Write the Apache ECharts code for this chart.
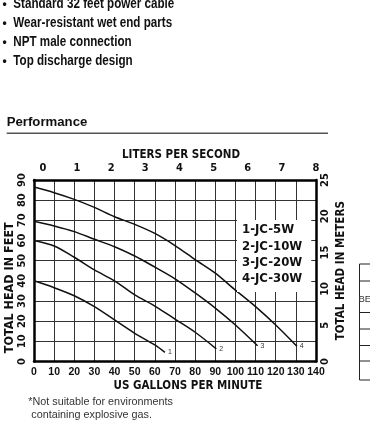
<!DOCTYPE html>
<html>
<head>
<meta charset="utf-8">
<script src="https://cdn.jsdelivr.net/npm/echarts@6/dist/echarts.min.js"></script>
<style>
html,body{margin:0;padding:0;background:#fff;}
#c{width:370px;height:421px;}
</style>
</head>
<body>
<div id="c"></div>
<script>
// ---- data ----
const modelNames = ['1-JC-5W', '2-JC-10W', '3-JC-20W', '4-JC-30W'];
const curveTags = ['1', '2', '3', '4'];
const gallons1 = [0, 10, 20, 30, 40, 50, 60, 65];
const feet1    = [40, 36.6, 32.6, 27.2, 20.6, 14, 8.2, 4.5];
const gallons2 = [0, 10, 20, 30, 40, 50, 60, 70, 80, 90.5];
const feet2    = [60, 57.3, 51.7, 45.4, 40, 33, 27.5, 21, 14.5, 6.3];
const gallons3 = [0, 10, 20, 30, 40, 50, 60, 70, 80, 90, 100, 111];
const feet3    = [69.5, 67.2, 64.4, 60.6, 56.9, 52.3, 46.8, 41, 34, 26.5, 18.1, 7.8];
const gallons4 = [0, 10, 20, 30, 40, 50, 60, 70, 80, 90, 100, 110, 120, 130.5];
const feet4    = [86.5, 83.7, 80.4, 76.4, 71.8, 68, 63.5, 57.5, 50.5, 43.8, 35.4, 27.2, 18.1, 7.6];
const literTicks = [0, 1, 2, 3, 4, 5, 6, 7, 8];
const bullets = ['Standard 32 feet power cable', 'Wear-resistant wet end parts', 'NPT male connection', 'Top discharge design'];
const footnote = ['*Not suitable for environments', ' containing explosive gas.'];

const COND = "'DejaVu Sans Condensed','DejaVu Sans',sans-serif";
const SANS = "'Liberation Sans',Arial,sans-serif";

const curves = [[gallons1, feet1], [gallons2, feet2], [gallons3, feet3], [gallons4, feet4]];
const series = curves.map(function (c, i) {
  return {
    type: 'line',
    name: modelNames[i],
    xAxisIndex: 0, yAxisIndex: 0,
    data: c[0].map(function (g, j) { return [g, c[1][j]]; }),
    smooth: 0.3,
    symbol: 'none',
    lineStyle: { color: '#111', width: 1.5 },
    itemStyle: { color: '#111' },
    endLabel: { show: true, formatter: curveTags[i], fontSize: 7, color: '#333', distance: 3, fontFamily: SANS }
  };
});

const axisLineStyle = { show: true, onZero: false, lineStyle: { color: '#000', width: 2.5 } };
const tickFont = { fontFamily: COND, fontWeight: 'bold', fontSize: 11, color: '#111' };

const graphics = [];
bullets.forEach(function (b, i) {
  const y = 4.3 + i * 19;
  graphics.push({ type: 'text', x: 2.5, y: y, style: { text: '\u2022', fontFamily: SANS, fontSize: 12, fontWeight: 'bold', fill: '#111', verticalAlign: 'middle' } });
  graphics.push({ type: 'text', x: 13.3, y: y, scaleX: 0.82, style: { text: b, fontFamily: SANS, fontSize: 14.2, fontWeight: 'bold', fill: '#111', verticalAlign: 'middle' } });
});
graphics.push({ type: 'text', x: 6.7, y: 122, style: { text: 'Performance', fontFamily: SANS, fontSize: 13.2, fontWeight: 'bold', fill: '#111', verticalAlign: 'middle' } });
graphics.push({ type: 'line', shape: { x1: 6.7, y1: 133.3, x2: 328, y2: 133.3 }, style: { stroke: '#555', lineWidth: 1.5 } });
footnote.forEach(function (t, i) {
  graphics.push({ type: 'text', x: 28.3, y: 402 + i * 13, style: { text: t, fontFamily: SANS, fontSize: 10.8, fill: '#333', verticalAlign: 'middle' } });
});
// fragment of neighbouring table at right edge
graphics.push({ type: 'line', shape: { x1: 359.5, y1: 264, x2: 359.5, y2: 380 }, style: { stroke: '#222', lineWidth: 1 } });
[264, 281, 312.5, 329, 345.5, 361, 380].forEach(function (y) {
  graphics.push({ type: 'line', shape: { x1: 359.5, y1: y, x2: 370, y2: y }, style: { stroke: '#222', lineWidth: 1 } });
});
graphics.push({ type: 'text', x: 358.5, y: 299, style: { text: 'BE', fontFamily: SANS, fontSize: 9.5, fill: '#333', verticalAlign: 'middle' } });

const option = {
  animation: false,
  backgroundColor: '#fff',
  grid: { left: 34, top: 180, width: 282, height: 181.5, containLabel: false, outerBoundsMode: 'none' },
  xAxis: [
    {
      type: 'value', position: 'bottom', min: 0, max: 140, interval: 10,
      axisLine: axisLineStyle,
      axisTick: { show: false },
      splitLine: { show: true, lineStyle: { color: '#333', width: 1 } },
      axisLabel: Object.assign({}, tickFont, { margin: 5, fontFamily: SANS, fontSize: 10.5, showMinLabel: true, showMaxLabel: true, hideOverlap: false }),
      name: 'US GALLONS PER MINUTE', nameLocation: 'middle', nameGap: 19, nameMoveOverlap: false,
      nameTextStyle: { fontFamily: COND, fontWeight: 'bold', fontSize: 11.5, color: '#111', padding: [0, 0, 0, 26] }
    },
    {
      type: 'value', position: 'top', min: -0.26, max: 8,
      axisLine: axisLineStyle,
      axisTick: { show: false },
      splitLine: { show: false },
      axisLabel: Object.assign({ margin: 6, customValues: literTicks, showMinLabel: true, showMaxLabel: true }, tickFont),
      name: 'LITERS PER SECOND', nameLocation: 'middle', nameGap: 19, nameMoveOverlap: false,
      nameTextStyle: { fontFamily: COND, fontWeight: 'bold', fontSize: 11.5, color: '#111', padding: [0, 0, 0, 12] }
    }
  ],
  yAxis: [
    {
      type: 'value', position: 'left', min: 0, max: 90, interval: 10,
      axisLine: axisLineStyle,
      axisTick: { show: false },
      splitLine: { show: true, lineStyle: { color: '#333', width: 1 } },
      axisLabel: Object.assign({ margin: 6, rotate: 90 }, tickFont),
      name: 'TOTAL HEAD IN FEET', nameLocation: 'middle', nameRotate: 90, nameGap: 18, nameMoveOverlap: false,
      nameTextStyle: { fontFamily: COND, fontWeight: 'bold', fontSize: 12.5, color: '#111', padding: [0, 34, 0, 0] }
    },
    {
      type: 'value', position: 'right', min: 0, max: 25, interval: 5,
      axisLine: axisLineStyle,
      axisTick: { show: false },
      splitLine: { show: false },
      axisLabel: Object.assign({ margin: 4, rotate: 90 }, tickFont),
      name: 'TOTAL HEAD IN METERS', nameLocation: 'middle', nameRotate: 90, nameGap: 19, nameMoveOverlap: false,
      nameTextStyle: { fontFamily: COND, fontWeight: 'bold', fontSize: 11.5, color: '#111' }
    }
  ],
  legend: {
    data: modelNames,
    orient: 'vertical',
    left: 237, top: 220,
    backgroundColor: '#fff',
    padding: [3, 9, 6, 0],
    itemWidth: 0, itemHeight: 14, itemGap: 2.3,
    icon: 'rect',
    selectedMode: false,
    textStyle: { fontFamily: COND, fontWeight: 'bold', fontSize: 13, color: '#111', lineHeight: 14 }
  },
  graphic: graphics,
  series: series
};

const chart = echarts.init(document.getElementById('c'), null, { renderer: 'canvas' });
chart.setOption(option);
</script>
</body>
</html>
